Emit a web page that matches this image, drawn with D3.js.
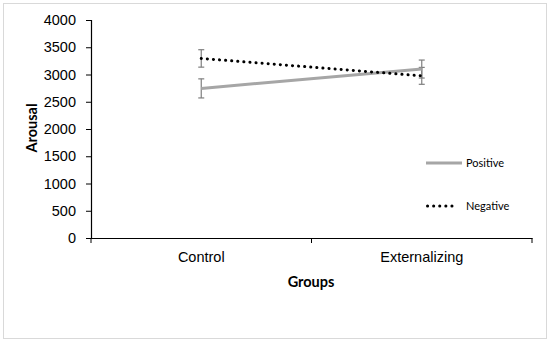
<!DOCTYPE html>
<meta charset="utf-8">
<style>
  body { margin: 0; background: #fff; }
  svg { font-family: Lato, "Liberation Sans", sans-serif; }
</style>
<svg width="550" height="343"></svg>
<script src="https://d3js.org/d3.v7.min.js"></script>
<script>

    var groups = ["Control", "Externalizing"];
    var seriesNames = ["Positive", "Negative"];
    var positive = [2745, 3100];
    var positiveErr = [175, 165];
    var negative = [3295, 2975];
    var negativeErr = [160, 155];
    var yTicks = [0, 500, 1000, 1500, 2000, 2500, 3000, 3500, 4000];

    var svg = d3.select("svg");

    // outer chart frame
    svg.append("rect")
        .attr("x", 3.5).attr("y", 3.5)
        .attr("width", 543).attr("height", 335)
        .attr("fill", "#fff")
        .attr("stroke", "#d9d9d9");

    var x = d3.scaleBand().domain(groups).range([91, 532]);
    var y = d3.scaleLinear().domain([0, 4000]).range([238, 20]);

    var yAxis = svg.append("g")
        .attr("transform", "translate(91,0)")
        .call(d3.axisLeft(y).tickValues(yTicks).tickFormat(d3.format("d")).tickSize(5).tickPadding(10));
    yAxis.select(".domain").attr("stroke", "#000").attr("stroke-width", 1.2);
    yAxis.selectAll(".tick line").attr("stroke", "#000");
    yAxis.selectAll("text").attr("font-size", 14.5).attr("fill", "#000");

    var xAxis = svg.append("g")
        .attr("transform", "translate(0,238)")
        .call(d3.axisBottom(x).tickSize(0).tickPadding(14));
    xAxis.select(".domain").attr("stroke", "#000").attr("stroke-width", 1.2);
    xAxis.selectAll("text").attr("font-size", 14.5).attr("fill", "#000");

    // category boundary ticks
    var edges = [91, 91 + x.step(), 532];
    svg.selectAll(".edge").data(edges).enter().append("line")
        .attr("x1", function(d) { return d; }).attr("x2", function(d) { return d; })
        .attr("y1", 238).attr("y2", 243)
        .attr("stroke", "#000");

    svg.append("text")
        .attr("x", 311).attr("y", 287)
        .attr("text-anchor", "middle")
        .attr("font-size", 14.5).attr("font-weight", "bold")
        .text("Groups");

    svg.append("text")
        .attr("transform", "translate(37,128) rotate(-90)")
        .attr("text-anchor", "middle")
        .attr("font-size", 14.5).attr("font-weight", "bold")
        .text("Arousal");

    var cx = function(d, i) { return x(groups[i]) + x.bandwidth() / 2; };

    function errorBars(vals, errs) {
        var g = svg.append("g").attr("stroke", "#7f7f7f").attr("stroke-width", 1.2);
        vals.forEach(function(v, i) {
            var px = cx(v, i);
            g.append("line").attr("x1", px).attr("x2", px)
                .attr("y1", y(v - errs[i])).attr("y2", y(v + errs[i]));
            [v - errs[i], v + errs[i]].forEach(function(e) {
                g.append("line").attr("x1", px - 3).attr("x2", px + 3)
                    .attr("y1", y(e)).attr("y2", y(e));
            });
        });
    }

    var line = d3.line().x(cx).y(function(d) { return y(d); });

    errorBars(positive, positiveErr);
    errorBars(negative, negativeErr);

    svg.append("path")
        .attr("d", line(positive))
        .attr("fill", "none")
        .attr("stroke", "#a6a6a6")
        .attr("stroke-width", 3);

    svg.append("path")
        .attr("d", line(negative))
        .attr("fill", "none")
        .attr("stroke", "#000")
        .attr("stroke-width", 3)
        .attr("stroke-linecap", "round")
        .attr("stroke-dasharray", "0.1,6");

    // legend
    var legendY = [163, 206];
    var legend = svg.selectAll(".legend").data(seriesNames).enter().append("g")
        .attr("transform", function(d, i) { return "translate(426," + legendY[i] + ")"; });
    legend.append("line")
        .attr("x1", function(d, i) { return i === 0 ? 0 : 1.5; })
        .attr("x2", function(d, i) { return i === 0 ? 36 : 32; })
        .attr("stroke", function(d, i) { return i === 0 ? "#a6a6a6" : "#000"; })
        .attr("stroke-width", 3)
        .attr("stroke-linecap", function(d, i) { return i === 0 ? "butt" : "round"; })
        .attr("stroke-dasharray", function(d, i) { return i === 0 ? null : "0.1,6"; });
    legend.append("text")
        .attr("x", 40).attr("dy", "0.35em")
        .attr("font-size", 11)
        .text(function(d) { return d; });

</script>
